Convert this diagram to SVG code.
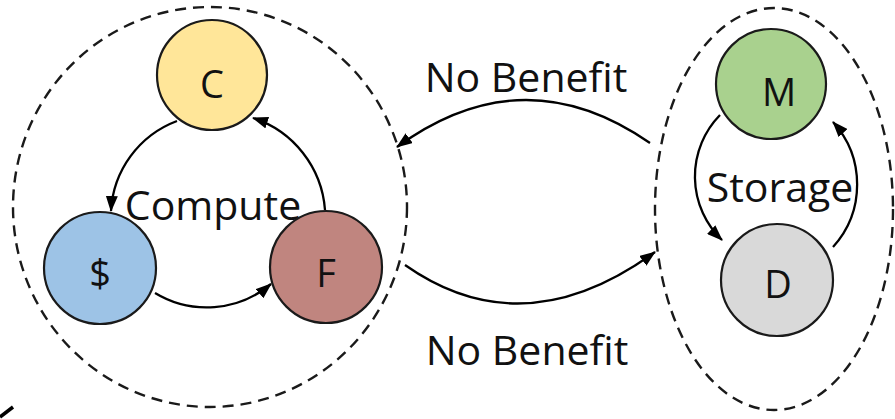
<svg xmlns="http://www.w3.org/2000/svg" width="895" height="419" viewBox="0 0 895 419">
  <defs>
    <marker id="arrow" viewBox="0 0 16 12" refX="15" refY="6" markerWidth="16" markerHeight="12" markerUnits="userSpaceOnUse" orient="auto">
      <path d="M0,0 L16,6 L0,12 Z" fill="#000"/>
    </marker>
    <style>
      .cluster { fill: none; stroke: #1a1a1a; stroke-width: 2.4; stroke-dasharray: 11 7; }
      .node { stroke: #1a1a1a; stroke-width: 2.2; }
      .edge { fill: none; stroke: #000; stroke-width: 2.3; marker-end: url(#arrow); }
      .lbl { font-family: "Open Sans", "Liberation Sans", sans-serif; fill: #111; text-anchor: middle; }
      .big { font-size: 41px; }
      .ltr { font-size: 38px; }
    </style>
  </defs>

  <!-- group boundaries -->
  <g id="compute-group">
    <ellipse class="cluster" cx="210" cy="207" rx="197" ry="200"/>
    <text class="lbl big" x="213" y="220">Compute</text>
  </g>
  <g id="storage-group">
    <ellipse class="cluster" cx="774" cy="209" rx="119" ry="201"/>
    <text class="lbl big" x="780" y="202">Storage</text>
  </g>

  <!-- connectors -->
  <g id="edges">
    <path class="edge" d="M177,121 A102,102 0 0 0 111,211"/>
    <path class="edge" d="M325,210 A105,105 0 0 0 253,118"/>
    <path class="edge" d="M155,293 A100,100 0 0 0 271,284"/>
    <path class="edge" d="M720,115 A88,88 0 0 0 722,240"/>
    <path class="edge" d="M833,247 A93,93 0 0 0 833,122"/>
    <path class="edge" d="M650,143 Q523,55 397,147"/>
    <path class="edge" d="M405,265 Q523,348 655,252"/>
    <text class="lbl big" x="526" y="92">No Benefit</text>
    <text class="lbl big" x="527" y="365">No Benefit</text>
  </g>

  <!-- nodes -->
  <g id="node-C">
    <circle class="node" cx="212" cy="75" r="55" fill="#FFE699"/>
    <text class="lbl ltr" x="212" y="98">C</text>
  </g>
  <g id="node-dollar">
    <circle class="node" cx="100" cy="268" r="56" fill="#9DC3E6"/>
    <text class="lbl ltr" x="100" y="287">$</text>
  </g>
  <g id="node-F">
    <circle class="node" cx="326" cy="267" r="56" fill="#C0857F"/>
    <text class="lbl ltr" x="326" y="287">F</text>
  </g>
  <g id="node-M">
    <circle class="node" cx="771" cy="84" r="55" fill="#A9D18E"/>
    <text class="lbl ltr" x="779" y="106">M</text>
  </g>
  <g id="node-D">
    <circle class="node" cx="777" cy="280" r="56" fill="#D9D9D9"/>
    <text class="lbl ltr" x="778" y="298">D</text>
  </g>

  <!-- short stroke at the lower-left corner -->
  <line x1="0" y1="417" x2="13" y2="407" stroke="#000" stroke-width="3.5"/>
</svg>
